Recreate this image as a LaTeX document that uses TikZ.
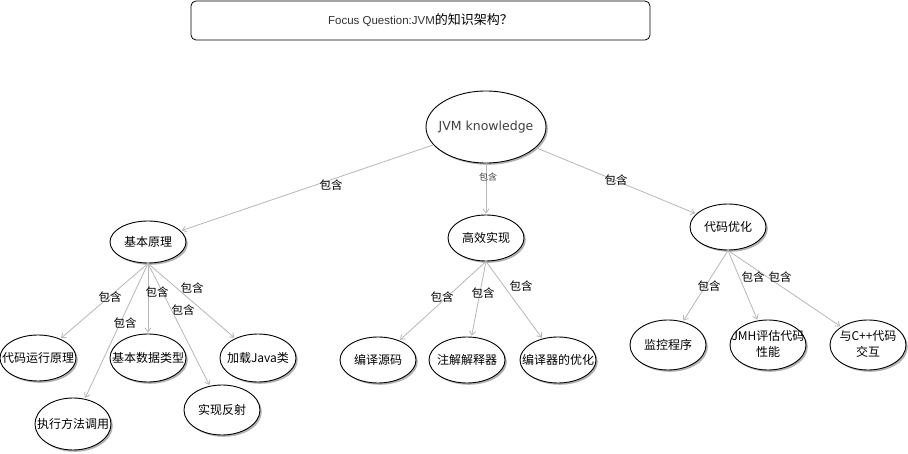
\documentclass[tikz,border=0pt]{standalone}
\usepackage{fontspec}
\setmainfont{Noto Sans CJK SC}
\newfontfamily\latf{Liberation Sans}
\newfontfamily\dejf{DejaVu Sans}
\usetikzlibrary{shapes.geometric,arrows.meta,shadows}
\newcommand\mkz[1]{\makebox[0pt]{#1}}
\newcommand\twol[2]{\makebox[0pt]{\begin{tabular}{@{}c@{}}#1\\#2\end{tabular}}}
\tikzset{
 concept/.style={ellipse, draw=black, line width=0.9pt, fill=white, inner sep=0pt,
   minimum width=76pt, minimum height=46pt, font=\fontsize{12}{16}\selectfont,
   drop shadow={shadow xshift=1.8pt,shadow yshift=-1.8pt,fill=black!30,opacity=1}},
 rel/.style={draw=black!28, line width=0.8pt, -{Straight Barb[length=4pt,width=6pt]}, shorten >=1pt},
 lab/.style={inner sep=0pt, font=\fontsize{11.5}{13}\selectfont},
}
\begin{document}
\begin{tikzpicture}[x=1pt,y=-1pt]
\fill[white] (0,0) rectangle (908,454);
\useasboundingbox (0,0) rectangle (908,454);
% focus question
\node[draw, rounded corners=5pt, line width=0.8pt, minimum width=459pt, minimum height=39pt, inner sep=0pt] (fq) at (420.5,20.5)
  {{\latf\fontsize{11.5}{13}\selectfont\color{black!80}Focus Question:JVM}{\fontsize{13}{15}\selectfont 的知识架构？}};
% concepts
\node[concept, minimum width=120pt, minimum height=72pt, font=\dejf\fontsize{12.5}{14}\selectfont, text=black!75] (root) at (486,127) {\mkz{JVM knowledge}};
\node[concept, minimum height=42pt] (b1) at (148,242) {\mkz{基本原理}};
\node[concept] (b2) at (486,238) {\mkz{高效实现}};
\node[concept] (b3) at (728,227) {\mkz{代码优化}};
\node[concept] (c1) at (38,358) {\mkz{代码运行原理}};
\node[concept, minimum height=52pt] (c2) at (73,424) {\mkz{执行方法调用}};
\node[concept, minimum height=48pt] (c3) at (148,358) {\mkz{基本数据类型}};
\node[concept, minimum height=50pt] (c4) at (222,410) {\mkz{实现反射}};
\node[concept, minimum height=48pt] (c5) at (258,358) {\mkz{加载Java类}};
\node[concept] (d1) at (378,360) {\mkz{编译源码}};
\node[concept] (d2) at (467,360) {\mkz{注解解释器}};
\node[concept] (d3) at (558,360) {\mkz{编译器的优化}};
\node[concept, minimum height=50pt] (e1) at (668,345) {\mkz{监控程序}};
\node[concept, minimum height=50pt] (e2) at (768,345) {\twol{JMH评估代码}{性能}};
\node[concept, minimum height=50pt] (e3) at (868,345) {\twol{与C++代码}{交互}};
% connectors
\draw[rel] (root) -- (b1);
\draw[rel] (root) -- (b2);
\draw[rel] (root) -- (b3);
\draw[rel] (b1.south) -- (c1);
\draw[rel] (b1.south) -- (c2);
\draw[rel] (b1.south) -- (c3);
\draw[rel] (b1.south) -- (c4);
\draw[rel] (b1.south) -- (c5);
\draw[rel] (b2.south) -- (d1);
\draw[rel] (b2.south) -- (d2);
\draw[rel] (b2.south) -- (d3);
\draw[rel] (b3.south) -- (e1);
\draw[rel] (b3.south) -- (e2);
\draw[rel] (b3.south) -- (e3);
% labels
\node[lab] (l1) at (331,185) {包含};
\node[lab, font=\fontsize{9}{11}\selectfont, text=black!75] (l2) at (488,177) {包含};
\node[lab] (l3) at (616,180) {包含};
\node[lab] (l4) at (110,297) {包含};
\node[lab] (l5) at (125,323) {包含};
\node[lab] (l6) at (157,292) {包含};
\node[lab] (l7) at (183,310) {包含};
\node[lab] (l8) at (192,288) {包含};
\node[lab] (l9) at (442,297) {包含};
\node[lab] (l10) at (483,293) {包含};
\node[lab] (l11) at (521,286) {包含};
\node[lab] (l12) at (709,286) {包含};
\node[lab] (l13) at (753,277) {包含};
\node[lab] (l14) at (780,277) {包含};
\end{tikzpicture}
\end{document}
